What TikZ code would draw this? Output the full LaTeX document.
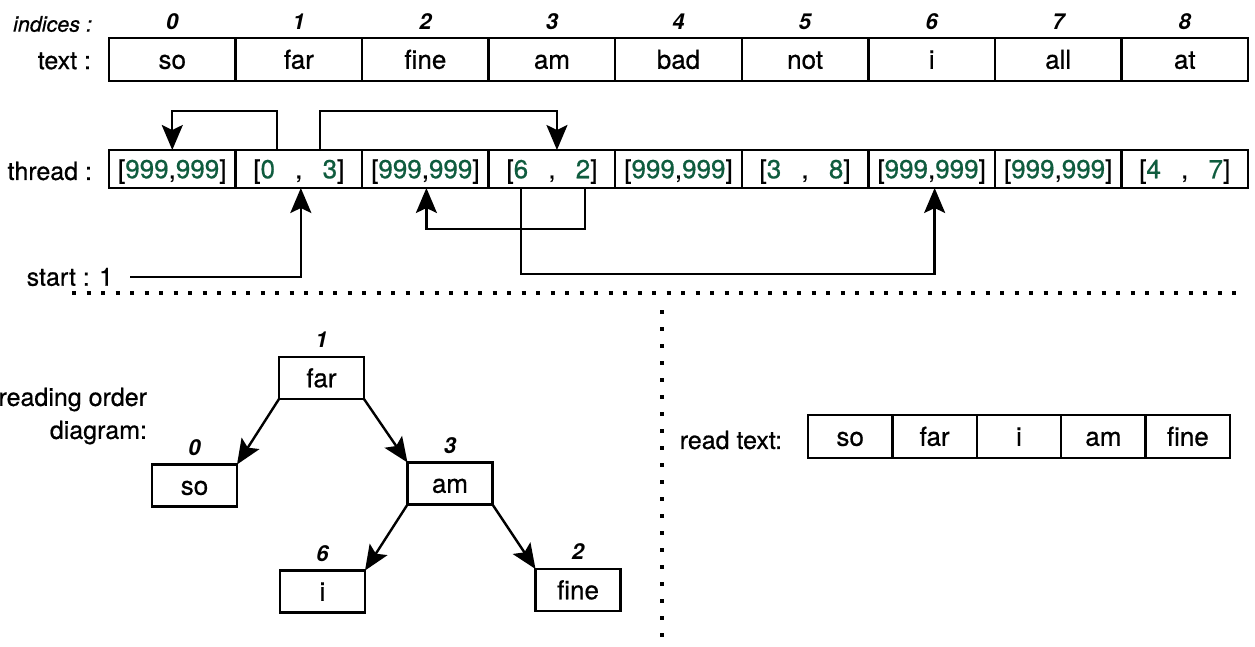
\documentclass[tikz,border=0pt]{standalone}
\usepackage{fontspec}
\setmainfont{TeX Gyre Heros}
\usetikzlibrary{arrows.meta}
\definecolor{numgreen}{RGB}{15,92,62}
\newcommand{\gn}[1]{\textcolor{numgreen}{#1}}
% thread entries: an empty slot and a (left, right) pair
\newcommand{\emptyslot}{[\gn{999},\gn{999}]}
\newcommand{\pairslot}[2]{\makebox[91pt]{[\gn{#1}\hfill,\hfill\gn{#2}]}}
% slightly heavier strokes for all text
\newcommand{\heavy}{\addfontfeature{FakeBold=0.6}}

\begin{document}
\begin{tikzpicture}[x=1pt,y=-1pt,
  every node/.style={inner sep=0pt, outer sep=0pt},
  lbl/.style={font=\fontsize{25}{33}\selectfont\heavy},
  idx/.style={font=\fontsize{22}{24}\selectfont\itshape\bfseries},
  idxhead/.style={font=\fontsize{21.5}{24}\selectfont\itshape\heavy},
  cell/.style={draw, line width=2.4pt, font=\fontsize{26}{30}\selectfont\heavy,
               text height=18.5pt, text depth=0pt},
  textcell/.style={cell, minimum width=126.6pt, minimum height=43pt},
  threadcell/.style={cell, minimum width=126.6pt, minimum height=38pt},
  treebox/.style={cell, minimum width=85pt, minimum height=42pt},
  readcell/.style={cell, minimum width=84.4pt, minimum height=43pt},
  tip/.tip={Stealth[length=25pt 0, width=21pt 0, inset=5pt 0]},
  link/.style={line width=2.4pt, -tip},
  hdots/.style={line width=4pt, dash pattern=on 4pt off 10.5pt},
  vdots/.style={line width=4pt, dash pattern=on 4pt off 13pt}
]
\useasboundingbox (0,0) rectangle (1255,646);

% ---- text array with its indices
\node[idxhead, anchor=east] (idxlbl) at (92,24) {indices :};
\node[lbl, anchor=east] (textlbl) at (91,61) {text :};
\foreach \w [count=\i from 0] in {so,far,fine,am,bad,not,i,all,at} {
  \node[textcell] (t\i) at ({109+126.56*(\i+0.5)},59.5) {\w};
  \node[idx] (n\i) at ([yshift=16pt]t\i.north) {\i};
}

% ---- thread array
\node[lbl, anchor=east] (threadlbl) at (92,171) {thread :};
\node[threadcell] (th0) at ({109+126.56*0.5},169) {\emptyslot};
\node[threadcell] (th1) at ({109+126.56*1.5},169) {\pairslot{0}{3}};
\node[threadcell] (th2) at ({109+126.56*2.5},169) {\emptyslot};
\node[threadcell] (th3) at ({109+126.56*3.5},169) {\pairslot{6}{2}};
\node[threadcell] (th4) at ({109+126.56*4.5},169) {\emptyslot};
\node[threadcell] (th5) at ({109+126.56*5.5},169) {\pairslot{3}{8}};
\node[threadcell] (th6) at ({109+126.56*6.5},169) {\emptyslot};
\node[threadcell] (th7) at ({109+126.56*7.5},169) {\emptyslot};
\node[threadcell] (th8) at ({109+126.56*8.5},169) {\pairslot{4}{7}};

% thread links
\draw[link] ([xshift=-22pt]th1.north) -- ++(0,-39) -| (th0.north);
\draw[link] ([xshift=21pt]th1.north) -- ++(0,-39) -| ([xshift=5pt]th3.north);
\draw[link] ([xshift=33pt]th3.south) -- ++(0,41) -| ([xshift=1pt]th2.south);
\draw[link] ([xshift=-31pt]th3.south) -- ++(0,86) -| ([xshift=3pt]th6.south);

% start pointer
\node[lbl, anchor=east] (start) at (113,277) {start : 1};
\draw[link] ([xshift=17pt]start.east) -| ([xshift=2pt]th1.south);

% ---- separators
\draw[hdots] (72,293) -- (1242,293);
\draw[vdots] (662,310) -- (662,642);

% ---- reading order tree
\node[lbl, align=right, anchor=east] (rolbl) at (147,416) {reading order\\diagram:};
\node[treebox] (far)  at (321.5,378)   {far};
\node[treebox] (so)   at (194.5,485.5) {so};
\node[treebox] (am)   at (450,483.5)   {am};
\node[treebox] (ii)   at (322.5,591.5) {i};
\node[treebox] (fine) at (578,590)     {fine};
\node[idx] at ([yshift=17pt]far.north)  {1};
\node[idx] at ([yshift=17pt]so.north)   {0};
\node[idx] at ([yshift=17pt]am.north)   {3};
\node[idx] at ([yshift=17pt]ii.north)   {6};
\node[idx] at ([yshift=17pt]fine.north) {2};
\draw[link] (far.south west) -- (so.north east);
\draw[link] (far.south east) -- (am.north west);
\draw[link] (am.south west)  -- (ii.north east);
\draw[link] (am.south east)  -- (fine.north west);

% ---- text read in thread order
\node[lbl, anchor=east] (rtlbl) at (782,440) {read text:};
\foreach \w [count=\i from 0] in {so,far,i,am,fine} {
  \node[readcell] (r\i) at ({808+84.4*(\i+0.5)},436.5) {\w};
}
\end{tikzpicture}
\end{document}
